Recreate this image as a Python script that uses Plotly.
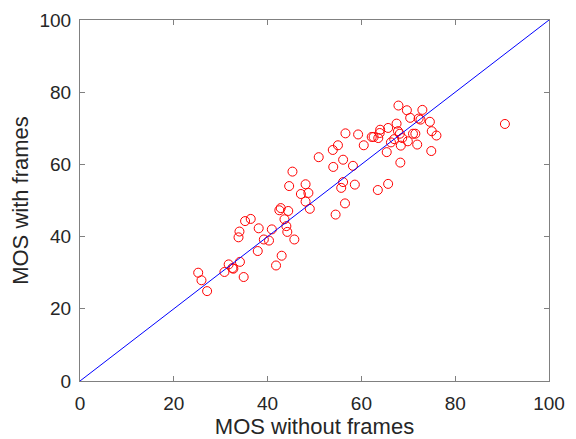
import plotly.graph_objects as go

mos_without = [25.2, 25.9, 27.1, 30.8, 31.7, 32.5, 32.7, 34.1, 34.9, 33.8,
               34.0, 35.2, 36.4, 38.1, 37.9, 39.2, 40.3, 40.9, 41.8, 43.0,
               42.5, 42.8, 44.4, 43.6, 44.0, 44.2, 45.7, 44.6, 45.3, 47.1,
               48.1, 48.7, 48.1, 49.0, 50.9, 53.9, 55.0, 54.0, 54.5, 55.7,
               56.1, 56.1, 56.5, 56.6, 58.2, 58.6, 59.3, 60.5, 62.2, 62.6,
               63.5, 63.6, 63.9, 64.0, 65.4, 65.7, 65.7, 66.3, 67.0, 67.5,
               67.9, 67.8, 68.2, 68.4, 68.3, 68.7, 69.7, 69.9, 70.4, 71.0,
               71.5, 71.9, 72.2, 72.6, 73.0, 74.6, 75.0, 74.9, 76.0, 90.6]
mos_with = [30.0, 27.9, 24.9, 30.2, 32.3, 31.3, 31.1, 33.0, 28.8, 39.8,
            41.4, 44.3, 44.9, 42.3, 36.0, 39.2, 38.9, 42.0, 32.0, 34.7,
            47.3, 47.9, 47.1, 44.8, 42.9, 41.3, 39.2, 54.0, 58.0, 51.8,
            54.5, 52.1, 49.7, 47.7, 62.0, 64.0, 65.3, 59.3, 46.1, 53.5,
            55.1, 61.3, 49.2, 68.6, 59.6, 54.4, 68.3, 65.3, 67.6, 67.6,
            52.9, 67.3, 68.7, 69.6, 63.4, 54.6, 70.1, 66.1, 67.0, 71.3,
            76.3, 69.2, 68.5, 65.2, 60.5, 67.3, 75.0, 66.4, 72.9, 68.5,
            68.5, 65.5, 72.7, 72.4, 75.1, 71.8, 69.2, 63.7, 68.0, 71.2]
diag = [0, 100]
ticks = [0, 20, 40, 60, 80, 100]

fig = go.Figure()
fig.add_trace(go.Scatter(x=mos_without, y=mos_with, mode="markers",
                         marker=dict(symbol="circle-open", size=9, color="#ff0000",
                                     line=dict(width=1, color="#ff0000")),
                         showlegend=False))
fig.add_trace(go.Scatter(x=diag, y=diag, mode="lines",
                         line=dict(color="#0000ff", width=1), showlegend=False))

axis_common = dict(range=[0, 100], tickvals=ticks, showgrid=False, zeroline=False,
                   showline=True, linecolor="#808080", linewidth=1, mirror="ticks",
                   ticks="inside", ticklen=5, tickcolor="#808080", automargin=False,
                   tickfont=dict(size=19, color="#262626"))
fig.update_xaxes(**axis_common, ticklabelstandoff=5,
                 title=dict(text="MOS without frames",
                            font=dict(size=22, color="#262626"), standoff=8))
fig.update_yaxes(**axis_common, ticklabelstandoff=4,
                 title=dict(text="MOS with frames",
                            font=dict(size=22, color="#262626"), standoff=6))
fig.update_layout(width=568, height=431, margin=dict(l=72, r=27, t=12, b=58),
                  plot_bgcolor="white", paper_bgcolor="white",
                  font=dict(family="Liberation Sans, Arial, sans-serif"))
fig.write_html("out.html")
